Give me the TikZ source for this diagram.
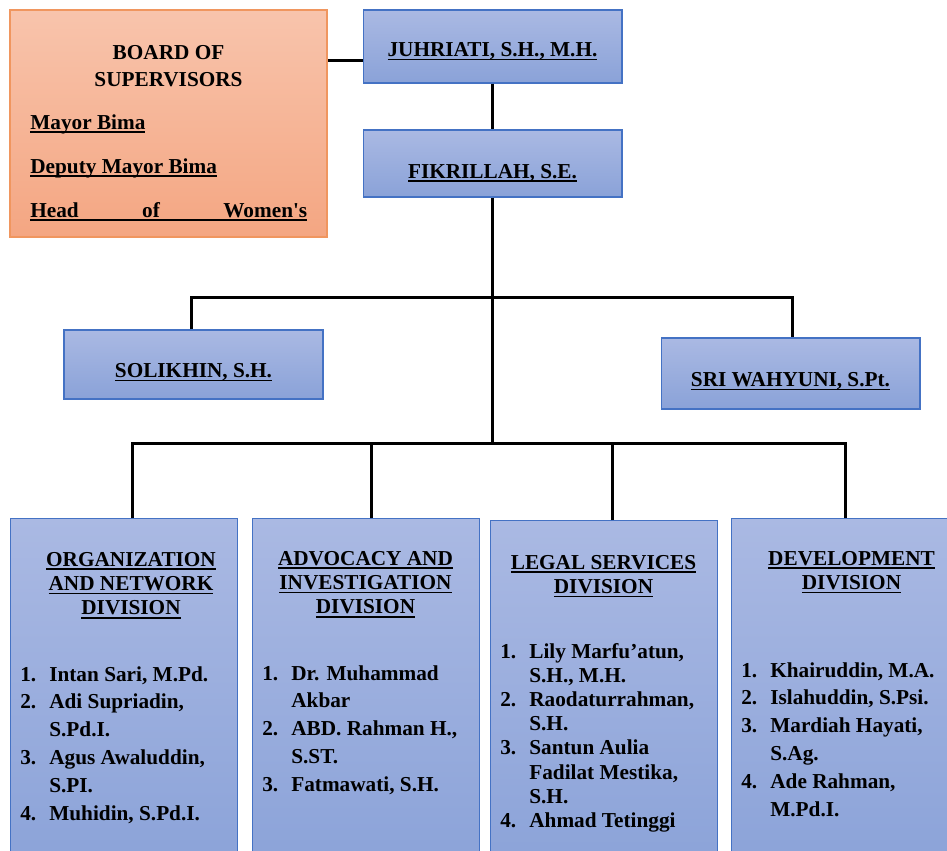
\documentclass[tikz,border=0pt]{standalone}
\usepackage{fontspec}
\setmainfont{Liberation Serif}[BoldFont={Liberation Serif Bold}]
\usetikzlibrary{calc}

\definecolor{boxtop}{RGB}{170,185,227}
\definecolor{boxbot}{RGB}{138,162,216}
\definecolor{boxline}{RGB}{68,114,196}
\definecolor{bodtop}{RGB}{248,196,172}
\definecolor{bodbot}{RGB}{244,166,130}
\definecolor{bodline}{RGB}{240,150,95}

% underlined text, thick rule
\newcommand\undr[1]{\sbox0{#1}\rlap{\rule[-2.2pt]{\wd0}{1pt}}\usebox0}
% name inside a person box, pushed down a little
\newcommand\boxtext[2][7.4pt]{\raisebox{-#1}[0pt][0pt]{\undr{#2}}}

\tikzset{
  every node/.style={font=\fontsize{12.1pt}{15.9pt}\selectfont\rmfamily\bfseries, inner sep=0pt},
  pbox/.style={draw=boxline, line width=0.6pt, top color=boxtop, bottom color=boxbot,
    minimum width=5.18cm},
  dbox/.style={pbox, anchor=north west, minimum width=4.54cm, minimum height=7.2cm},
  sbox/.style={draw=bodline, line width=0.8pt, top color=bodtop, bottom color=bodbot,
    minimum width=6.34cm, minimum height=4.54cm},
  dtitle/.style={anchor=base, font=\fontsize{12.1pt}{13.9pt}\selectfont\rmfamily\bfseries},
  dlist/.style={anchor=base west},
  conn/.style={line width=1.7pt},
}

\begin{document}
\begin{tikzpicture}[x=0.02cm, y=-0.02cm]
  \useasboundingbox (0,0) rectangle (947,850);

  % Board of supervisors
  \node [sbox] (bod) at (168.5,123.5) {};
  \node [anchor=base, font=\fontsize{12.1pt}{15.4pt}\selectfont\rmfamily\bfseries] (bodt) at (168.5,59)
        {\begin{tabular}[t]{@{}c@{}}BOARD OF\\ SUPERVISORS\end{tabular}};
  \node [anchor=base west] (bod1) at (30,129) {\undr{Mayor Bima}};
  \node [anchor=base west] (bod2) at (30,173) {\undr{Deputy Mayor Bima}};
  \node [anchor=base west] (bod3) at (30,217)
        {\undr{\makebox[157.6pt][s]{Head\hfill of\hfill Women\textquotesingle s}}};

  % Chairs
  \node [pbox, minimum height=1.46cm] (juh) at (492.5,46.5) {\boxtext[5.7pt]{JUHRIATI, S.H., M.H.}};
  \node [pbox, minimum height=1.34cm] (fik) at (492.5,163.5) {\boxtext[8.3pt]{FIKRILLAH, S.E.}};

  % Secretary and treasurer
  \node [pbox, minimum height=1.38cm] (sol) at (193.5,364.5) {\boxtext{SOLIKHIN, S.H.}};
  \node [pbox, minimum height=1.42cm] (sri) at (790.5,373.5) {\boxtext{SRI WAHYUNI, S.Pt.}};

  % Divisions
  \node [dbox] (org) at (10,518) {};
  \node [dbox] (adv) at (252,518) {};
  \node [dbox] (leg) at (490,520) {};
  \node [dbox] (dev) at (731,518) {};

  \node [dtitle] (orgt) at (131,566)
        {\begin{tabular}[t]{@{}c@{}}\undr{ORGANIZATION}\\ \undr{AND NETWORK}\\ \undr{DIVISION}\end{tabular}};
  \node [dtitle] (advt) at (365.5,565)
        {\begin{tabular}[t]{@{}c@{}}\undr{ADVOCACY AND}\\ \undr{INVESTIGATION}\\ \undr{DIVISION}\end{tabular}};
  \node [dtitle] (legt) at (603.5,569)
        {\begin{tabular}[t]{@{}c@{}}\undr{LEGAL SERVICES}\\ \undr{DIVISION}\end{tabular}};
  \node [dtitle] (devt) at (851.5,565)
        {\begin{tabular}[t]{@{}c@{}}\undr{DEVELOPMENT}\\ \undr{DIVISION}\end{tabular}};

  \node [dlist] (orgl) at (20,681)
        {\begin{tabular}[t]{@{}p{16.5pt}@{}l@{}}
          1. & Intan Sari, M.Pd.\\
          2. & Adi Supriadin,\\
             & S.Pd.I.\\
          3. & Agus Awaluddin,\\
             & S.PI.\\
          4. & Muhidin, S.Pd.I.
        \end{tabular}};
  \node [dlist] (advl) at (262,680)
        {\begin{tabular}[t]{@{}p{16.5pt}@{}l@{}}
          1. & Dr. Muhammad\\
             & Akbar\\
          2. & ABD. Rahman H.,\\
             & S.ST.\\
          3. & Fatmawati, S.H.
        \end{tabular}};
  \node [dlist, font=\fontsize{12.1pt}{13.8pt}\selectfont\rmfamily\bfseries] (legl) at (500,658)
        {\begin{tabular}[t]{@{}p{16.5pt}@{}l@{}}
          1. & Lily Marfu’atun,\\
             & S.H., M.H.\\
          2. & Raodaturrahman,\\
             & S.H.\\
          3. & Santun Aulia\\
             & Fadilat Mestika,\\
             & S.H.\\
          4. & Ahmad Tetinggi
        \end{tabular}};
  \node [dlist] (devl) at (741,677)
        {\begin{tabular}[t]{@{}p{16.5pt}@{}l@{}}
          1. & Khairuddin, M.A.\\
          2. & Islahuddin, S.Psi.\\
          3. & Mardiah Hayati,\\
             & S.Ag.\\
          4. & Ade Rahman,\\
             & M.Pd.I.
        \end{tabular}};

  % Connectors
  \coordinate (bj) at ([yshift=-7.7pt]juh.west);
  \coordinate (b1) at (492.5,297);
  \coordinate (b2) at (492.5,443);
  \draw [conn] (bj) -- (bj -| bod.east);
  \draw [conn] (juh) -- (fik);
  \draw [conn] (fik) -- (b2);
  \draw [conn] ([xshift=-1.4pt]sol.north) |- (b1) -| ([xshift=1.4pt]sri.north);
  \draw [conn] ([xshift=4.8pt]org.north) |- (b2) -| (dev.north);
  \draw [conn] ([xshift=3pt]adv.north) -- ([xshift=3pt]adv.north |- b2);
  \draw [conn] ([xshift=4.8pt]leg.north) -- ([xshift=4.8pt]leg.north |- b2);
\end{tikzpicture}
\end{document}
